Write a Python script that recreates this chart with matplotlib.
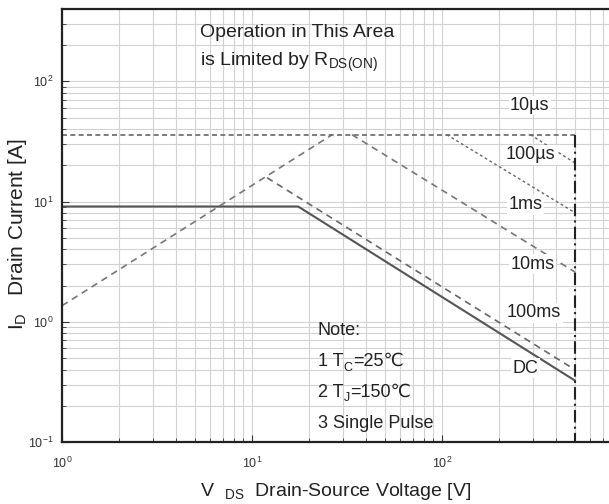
import numpy as np
import matplotlib
matplotlib.use("Agg")
import matplotlib.pyplot as plt

plt.rcParams['font.family'] = ['Liberation Sans', 'DejaVu Sans']
plt.rcParams['mathtext.fontset'] = 'custom'
plt.rcParams['mathtext.rm'] = 'Liberation Sans'
plt.rcParams['mathtext.it'] = 'Liberation Sans'

# safe operating area (V, A)
vds_rds = [1, 26.4]
id_rds = [1.36, 36]
vds_10us = [1, 500]
id_10us = [36, 36]
vds_100us = [292, 500]
id_100us = [36, 21]
vds_1ms = [106, 500]
id_1ms = [36, 8.1]
vds_10ms = [33.6, 500]
id_10ms = [36, 2.6]
vds_100ms = [12, 500]
id_100ms = [15.8, 0.40]
vds_dc = [1, 17.5, 500]
id_dc = [9.1, 9.1, 0.325]
vds_bv = [500, 500]
id_bv = [36, 0.1]

labels = ["10\u00b5s", "100\u00b5s", "1ms", "10ms", "100ms", "DC"]
label_x = [290, 292, 275, 300, 305, 275]
label_y = [63, 24.5, 9.4, 3.0, 1.19, 0.41]

# note lines: (main text, subscript, rest)
notes = [("Note:", "", ""), ("1 T", "C", "=25\u2103"), ("2 T", "J", "=150\u2103"),
         ("3 Single Pulse", "", "")]
notes_y = [0.84, 0.467, 0.259, 0.1436]

fig = plt.figure(figsize=(6.09, 5.04), dpi=100)
ax = fig.add_axes([62/609, 62/504, 547/609, 433/504])
ax.set_xscale('log')
ax.set_yscale('log')
ax.set_xlim(1, 757)
ax.set_ylim(0.1, 400)

ax.grid(True, which='both', color='#d2d2d2', lw=0.8)
ax.set_axisbelow(True)

ax.plot(vds_rds, id_rds, color='#777777', lw=1.2, dashes=(4, 3))
ax.plot(vds_10us, id_10us, color='#666666', lw=1.2, dashes=(3, 2))
ax.plot(vds_100us, id_100us, color='#666666', lw=1.0, dashes=(2, 2))
ax.plot(vds_1ms, id_1ms, color='#666666', lw=1.0, dashes=(2, 2))
ax.plot(vds_10ms, id_10ms, color='#777777', lw=1.2, dashes=(4, 3))
ax.plot(vds_100ms, id_100ms, color='#666666', lw=1.2, dashes=(4, 3))
ax.plot(vds_dc, id_dc, color='#555555', lw=1.5)
ax.plot(vds_bv, id_bv, color='#222222', lw=1.5, dashes=(6, 2, 1, 2))

for t, x, y in zip(labels, label_x, label_y):
    ax.text(x, y, t, fontsize=13, color='#222222', ha='center', va='center',
            bbox=dict(facecolor='white', edgecolor='none', pad=1))

ax.text(5.3, 254, "Operation in This Area", fontsize=14, color='#222222', va='center')
ax.text(5.3, 144, "is Limited by R$_{\\rm DS(ON)}$", fontsize=14, color='#222222', va='center')

for (main, sub, rest), y in zip(notes, notes_y):
    t1 = ax.text(22.2, y, main, fontsize=13, color='#222222', va='center')
    if sub:
        t2 = ax.annotate(sub, xy=(1, 0), xycoords=t1, xytext=(0.3, -2.5),
                         textcoords='offset points', fontsize=9, color='#222222',
                         va='bottom')
        ax.annotate(rest, xy=(1, 0), xycoords=(t2, t1), fontsize=13,
                    color='#222222', va='bottom')

ax.spines['right'].set_visible(False)
for s in ['left', 'bottom', 'top']:
    ax.spines[s].set_linewidth(1.6)
    ax.spines[s].set_color('#222222')

ax.tick_params(which='both', direction='in', colors='#333333', labelsize=9)
ax.tick_params(axis='x', which='both', pad=10)
ax.tick_params(axis='y', which='both', pad=6)
ax.tick_params(which='major', length=5)
ax.tick_params(which='minor', length=3)
ax.set_xticks([1, 10, 100])
ax.set_xticklabels(["$10^{0}$", "$10^{1}$", "$10^{2}$"])
ax.set_yticks([0.1, 1, 10, 100])
ax.set_yticklabels(["$10^{-1}$", "$10^{0}$", "$10^{1}$", "$10^{2}$"])

ax.set_xlabel("V$_{\\quad\\rm DS}$  Drain-Source Voltage [V]", fontsize=14, color='#222222')
ax.xaxis.set_label_coords(0.5, -0.09)
ax.set_ylabel("I$_{\\rm D}$   Drain Current [A]", fontsize=15, color='#222222')
ax.yaxis.set_label_coords(-0.06, 0.48)

plt.savefig("out.png", dpi=100)
